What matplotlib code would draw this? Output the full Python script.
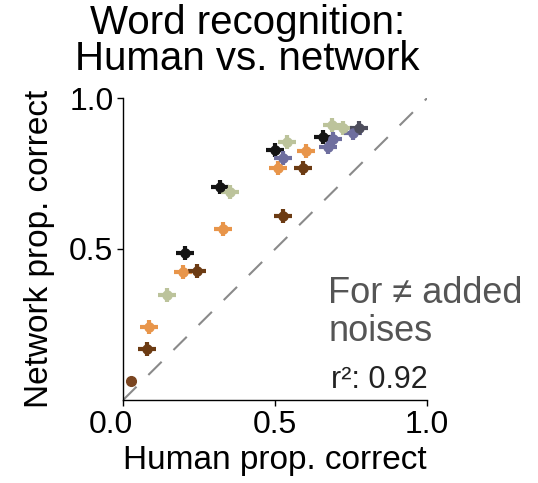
import matplotlib.pyplot as plt
from matplotlib.transforms import ScaledTranslation

plt.rcParams['font.family'] = ['Liberation Sans', 'DejaVu Sans']

# human vs network proportion correct, one list per noise colour
colors = ["#141414", "#bcc39b", "#e8954a", "#6c3b13", "#6e6e9e", "#4d4d5c"]
human = [
    [0.204, 0.319, 0.500, 0.658],          # black
    [0.145, 0.352, 0.539, 0.688, 0.724],   # sage
    [0.086, 0.197, 0.329, 0.510, 0.602],   # orange
    [0.079, 0.243, 0.526, 0.592],          # dark brown
    [0.526, 0.674, 0.691, 0.757],          # slate blue
    [0.776],                               # dark slate
]
network = [
    [0.487, 0.705, 0.828, 0.871],
    [0.348, 0.689, 0.854, 0.911, 0.901],
    [0.242, 0.424, 0.566, 0.768, 0.825],
    [0.169, 0.427, 0.609, 0.768],
    [0.801, 0.838, 0.864, 0.884],
    [0.901],
]
# clean speech point
clean_human = [0.026]
clean_network = [0.063]

human_err = 0.03
network_err = 0.022
r2 = 0.92

fig = plt.figure(figsize=(5.38, 4.83), dpi=100)
ax = fig.add_axes([0.229, 0.172, 0.565, 0.625])

ax.plot([0, 1], [0, 1], color="#8a8a8a", linestyle=(0, (9, 8)), linewidth=1.5, zorder=1)

for c, hx, ny in zip(colors, human, network):
    ax.errorbar(hx, ny, xerr=human_err, yerr=network_err, fmt="o", color=c,
                markersize=6.5, elinewidth=3, capsize=0, zorder=3)
ax.plot(clean_human, clean_network, "o", color="#7a4520", markersize=7, zorder=3)

ax.set_xlim(0, 1)
ax.set_ylim(0, 1)
ax.set_xticks([0, 0.5, 1.0])
ax.set_xticklabels(["0.0", "0.5", "1.0"])
ax.set_yticks([0.5, 1.0])
ax.set_yticklabels(["0.5", "1.0"])
ax.tick_params(labelsize=23, length=4, width=1, direction="out", pad=3)
ax.get_xticklabels()[0].set_transform(
    ax.get_xticklabels()[0].get_transform() + ScaledTranslation(-0.12, 0, fig.dpi_scale_trans))
for s in ["top", "right"]:
    ax.spines[s].set_visible(False)
for s in ["left", "bottom"]:
    ax.spines[s].set_linewidth(1)

ax.set_xlabel("Human prop. correct", fontsize=24, labelpad=4)
ax.set_ylabel("Network prop. correct", fontsize=24, labelpad=10)
ax.set_title("Word recognition:\nHuman vs. network", fontsize=29, linespacing=0.93,
             x=0.408, pad=20)

ax.text(0.675, 0.41, "For \u2260 added\nnoises", transform=ax.transAxes, fontsize=26,
        color="#555555", va="top", ha="left", linespacing=1.1)
ax.text(1.0, 0.04, f"r\u00b2: {r2:.2f}", transform=ax.transAxes, fontsize=22,
        color="#222222", va="baseline", ha="right")

fig.savefig("out.png", dpi=100)
